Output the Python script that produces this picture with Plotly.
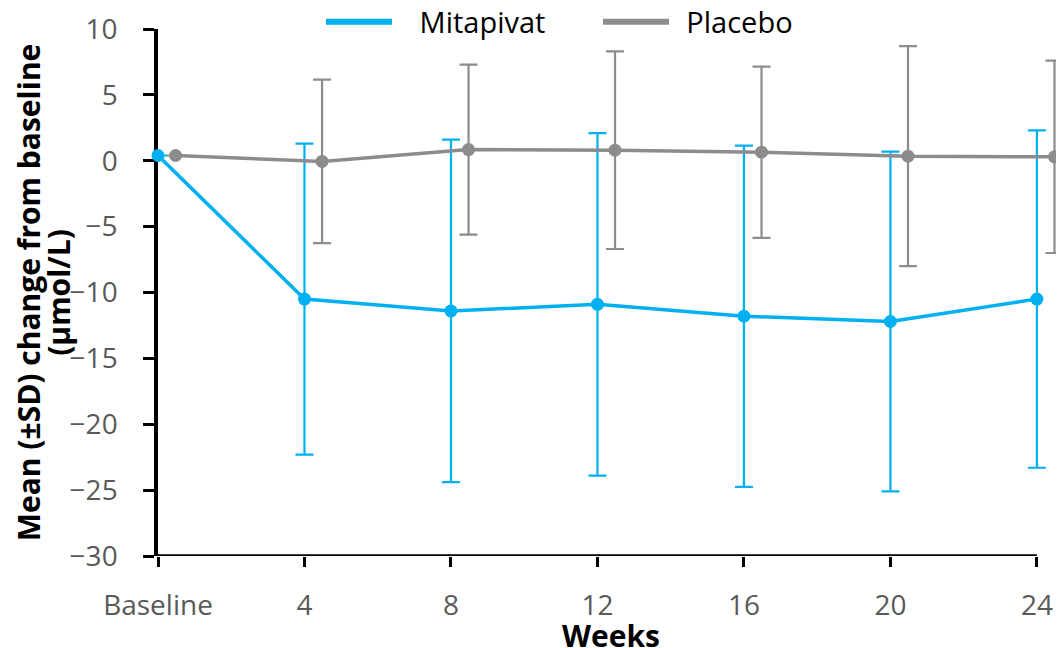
import plotly.graph_objects as go

weeks = [0, 4, 8, 12, 16, 20, 24]
tick_labels = ["Baseline", "4", "8", "12", "16", "20", "24"]

mitapivat_mean = [0.4, -10.5, -11.4, -10.9, -11.8, -12.2, -10.5]
mitapivat_sd = [0, 11.8, 13.0, 13.0, 12.95, 12.9, 12.8]

placebo_mean = [0.4, -0.05, 0.85, 0.8, 0.65, 0.35, 0.3]
placebo_sd = [0, 6.2, 6.45, 7.5, 6.5, 8.35, 7.3]

BLUE = "#00B0F0"
GREY = "#8C8C8C"
FONT = "Open Sans"
DODGE = 0.48

fig = go.Figure()
fig.add_trace(go.Scatter(
    x=weeks, y=mitapivat_mean, name="Mitapivat", mode="lines+markers",
    line=dict(color=BLUE, width=3.5), marker=dict(color=BLUE, size=13),
    error_y=dict(type="data", array=mitapivat_sd, color=BLUE, thickness=2.2, width=9),
    cliponaxis=False, showlegend=False,
))
fig.add_trace(go.Scatter(
    x=[w + DODGE for w in weeks], y=placebo_mean, name="Placebo", mode="lines+markers",
    line=dict(color=GREY, width=3.5), marker=dict(color=GREY, size=13),
    error_y=dict(type="data", array=placebo_sd, color=GREY, thickness=2.2, width=9),
    cliponaxis=False, showlegend=False,
))
# legend entries (line only)
fig.add_trace(go.Scatter(x=[None], y=[None], mode="lines",
                         name="\u00a0\u00a0\u00a0Mitapivat",
                         line=dict(color=BLUE, width=6)))
fig.add_trace(go.Scatter(x=[None], y=[None], mode="lines",
                         name="\u00a0\u2009Placebo",
                         line=dict(color=GREY, width=6)))

# x axis line from Baseline to week 24
fig.add_shape(type="line", xref="x", yref="y", x0=weeks[0], x1=weeks[-1], y0=-30, y1=-30,
              line=dict(color="black", width=3.5), layer="below")

fig.update_layout(
    width=1064, height=648,
    margin=dict(l=150, r=8, t=21, b=100, autoexpand=False),
    paper_bgcolor="white", plot_bgcolor="white",
    font=dict(family=FONT, size=28, color="#595959"),
    showlegend=True,
    legend=dict(orientation="h", x=(321 - 158) / 906, xanchor="left",
                y=1 + 7 / 527, yanchor="middle",
                font=dict(size=29, color="black"), itemwidth=66,
                entrywidth=196, bgcolor="rgba(0,0,0,0)"),
    xaxis=dict(
        range=[0, 24.74], tickmode="array", tickvals=weeks, ticktext=tick_labels,
        showgrid=False, zeroline=False, showline=False, layer="below traces",
        ticks="outside", ticklen=10, tickwidth=3, tickcolor="black",
        ticklabelstandoff=14,
        title=dict(text="<b>Weeks</b>", font=dict(size=30, color="black"), standoff=7),
    ),
    yaxis=dict(
        range=[-30, 10], tickvals=[10, 5, 0, -5, -10, -15, -20, -25, -30],
        showgrid=False, zeroline=False, showline=True, linecolor="black", linewidth=3.5,
        layer="below traces",
        ticks="outside", ticklen=11, tickwidth=3, tickcolor="black",
        ticklabelstandoff=20,
        title=dict(text="<b><span style='font-size:30px'>Mean (±SD) change from baseline</span>"
                        "<br><span style='font-size:30px'>(μmol/L)</span></b>",
                   font=dict(size=23, color="black"), standoff=4),
    ),
)

fig.write_html("out.html")
